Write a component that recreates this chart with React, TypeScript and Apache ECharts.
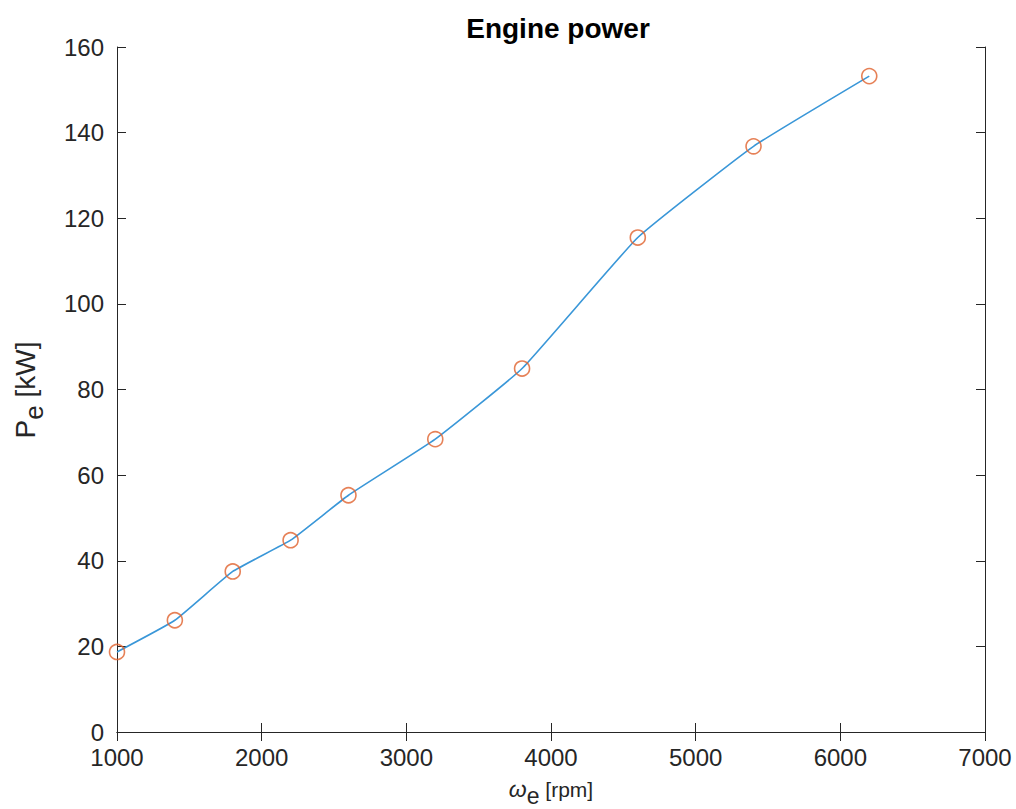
import React, { useEffect, useRef } from "react";
import * as echarts from "echarts";

const rpm = [1000, 1400, 1800, 2200, 2600, 3200, 3800, 4600, 5400, 6200];
const powerKW = [18.7, 26.1, 37.5, 44.8, 55.3, 68.4, 84.9, 115.5, 136.8, 153.2];
const titleText = "Engine power";

const FONT = "'Liberation Sans', Arial, Helvetica, sans-serif";
const TXT = "#262626";

export default function App() {
  const ref = useRef<HTMLDivElement>(null);
  useEffect(() => {
    if (!ref.current) return;
    const chart = echarts.init(ref.current, null, { renderer: "svg" });
    const pts = rpm.map((x, i) => [x, powerKW[i]]);
    const axisCommon = {
      axisLine: { show: true, lineStyle: { color: TXT, width: 1 } },
      axisTick: { show: true, inside: true, length: 9, lineStyle: { color: TXT } },
      splitLine: { show: false },
    };
    const fmt = (v: number) => String(v);
    chart.setOption({
      animation: false,
      backgroundColor: "#ffffff",
      title: {
        text: titleText,
        left: 553,
        top: 9,
        textAlign: "center",
        textStyle: { fontFamily: FONT, fontSize: 28, fontWeight: "bold", color: "#000" },
      },
      grid: { left: 117, top: 47, width: 868, height: 685, containLabel: false },
      xAxis: [
        {
          type: "value", min: 1000, max: 7000, interval: 1000, position: "bottom",
          ...axisCommon,
          axisLabel: { fontFamily: FONT, fontSize: 24, color: TXT, margin: 13, formatter: fmt },
        },
        {
          type: "value", min: 1000, max: 7000, interval: 1000, position: "top",
          ...axisCommon,
          axisLabel: { show: false },
        },
      ],
      yAxis: [
        {
          type: "value", min: 0, max: 160, interval: 20, position: "left",
          ...axisCommon,
          axisLabel: { fontFamily: FONT, fontSize: 24, color: TXT, margin: 13, formatter: fmt },
        },
        {
          type: "value", min: 0, max: 160, interval: 20, position: "right",
          ...axisCommon,
          axisLabel: { show: false },
        },
      ],
      graphic: [
        {
          type: "text",
          x: 551,
          y: 771,
          style: {
            text: "{w|ω}{s|e}{r| [rpm]}",
            align: "center",
            verticalAlign: "top",
            rich: {
              w: { fontFamily: FONT, fontSize: 23, fontStyle: "italic", fill: TXT },
              s: { fontFamily: FONT, fontSize: 23, fill: TXT, padding: [13, 0, 0, 0] },
              r: { fontFamily: FONT, fontSize: 21, fill: TXT },
            },
          },
        },
        {
          type: "text",
          x: 25,
          y: 390,
          rotation: Math.PI / 2,
          style: {
            text: "{p|P}{s|e}{r| [kW]}",
            align: "center",
            verticalAlign: "middle",
            rich: {
              p: { fontFamily: FONT, fontSize: 28, fill: TXT },
              s: { fontFamily: FONT, fontSize: 26, fill: TXT, padding: [18, 0, 0, 0] },
              r: { fontFamily: FONT, fontSize: 28, fill: TXT },
            },
          },
        },
      ],
      series: [
        {
          type: "line",
          data: pts,
          smooth: 0.12,
          showSymbol: false,
          lineStyle: { color: "#3A97D8", width: 1.6 },
          z: 2,
        },
        {
          type: "scatter",
          data: pts,
          symbol: "circle",
          symbolSize: 15,
          itemStyle: { color: "transparent", borderColor: "#E0622D", borderWidth: 1.6 },
          z: 3,
        },
      ],
    });
    return () => chart.dispose();
  }, []);
  return (
    <div
      ref={ref}
      style={{ position: "fixed", left: 0, top: 0, width: 1016, height: 809, background: "#fff" }}
    />
  );
}
